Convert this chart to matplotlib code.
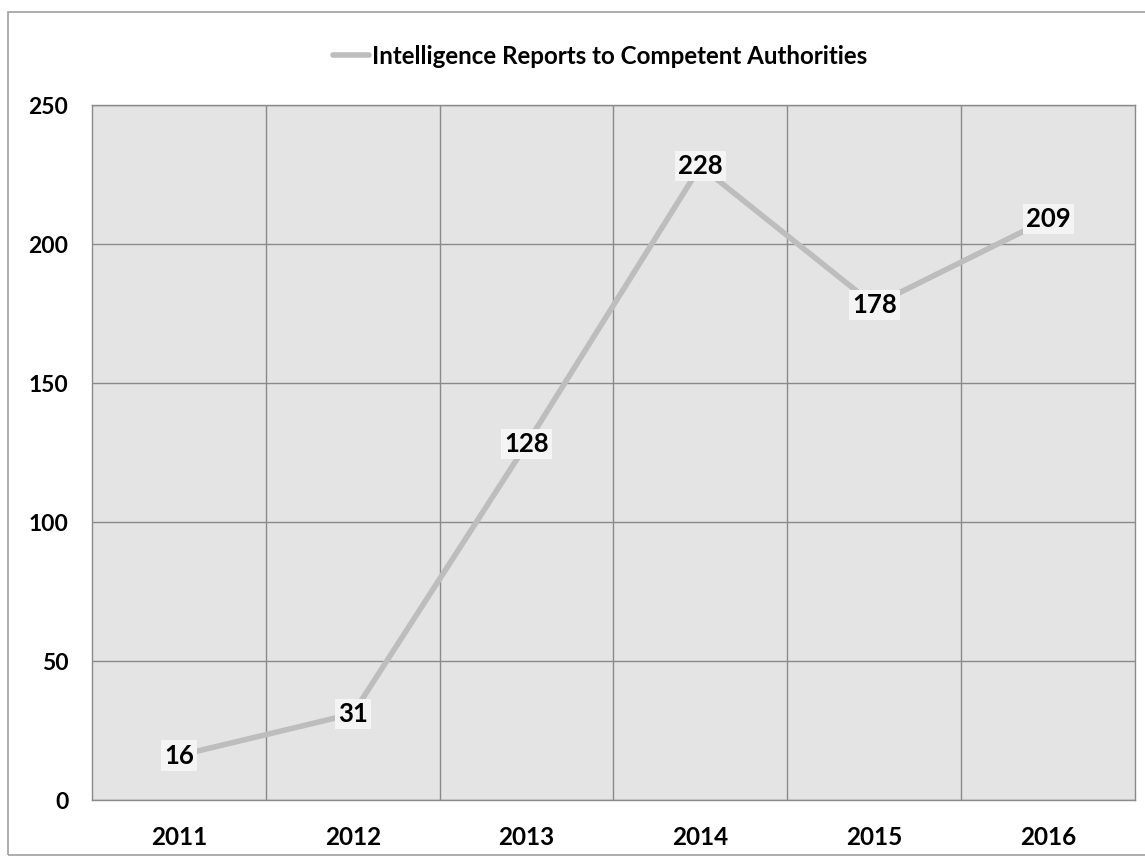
import matplotlib.pyplot as plt
from matplotlib.patches import Rectangle

years = ['2011', '2012', '2013', '2014', '2015', '2016']
reports = [16, 31, 128, 228, 178, 209]
y_ticks = [0, 50, 100, 150, 200, 250]
series_name = 'Intelligence Reports to Competent Authorities'

plt.rcParams['font.family'] = ['Lato', 'DejaVu Sans']

fig = plt.figure(figsize=(11.45, 8.63), dpi=100)
fig.patch.set_facecolor('white')
ax = fig.add_axes([0.0803, 0.0730, 0.9110, 0.8053])
ax.set_facecolor('#e4e4e4')

# outer chart frame
fig.patches.append(Rectangle((0.007, 0.009), 1.2, 0.977, transform=fig.transFigure,
                             fill=False, edgecolor='#a0a0a0', linewidth=1.2))

x = list(range(len(years)))
ax.plot(x, reports, color='#bdbdbd', linewidth=4, solid_capstyle='round',
        label=series_name, zorder=3)

for xi, v in zip(x, reports):
    ax.text(xi, v, str(v), ha='center', va='center', fontsize=18.5, fontweight='bold',
            color='black', zorder=4,
            bbox=dict(boxstyle='square,pad=0.12', facecolor='#f4f4f4', edgecolor='none'))

ax.set_xlim(-0.5, len(years) - 0.5)
ax.set_ylim(0, 250)
ax.set_yticks(y_ticks)
ax.set_yticklabels([str(t) for t in y_ticks], fontsize=16.5, fontweight='bold')
ax.set_xticks(x)
ax.set_xticklabels(years, fontsize=17.5, fontweight='bold')
ax.set_xticks([i + 0.5 for i in x[:-1]], minor=True)
ax.tick_params(axis='both', which='both', length=0)
ax.tick_params(axis='y', pad=17)
ax.tick_params(axis='x', pad=19)

ax.grid(True, which='minor', axis='x', color='#8a8a8a', linewidth=1)
ax.grid(True, which='major', axis='y', color='#8a8a8a', linewidth=1)
for s in ax.spines.values():
    s.set_color('#8a8a8a')
    s.set_linewidth(1)

leg = fig.legend(loc='center', bbox_to_anchor=(0.524, 0.935), frameon=False,
                 fontsize=17.4, handlelength=1.5, handletextpad=0.1)
for t in leg.get_texts():
    t.set_fontweight('bold')

fig.savefig('out.png', dpi=100)
